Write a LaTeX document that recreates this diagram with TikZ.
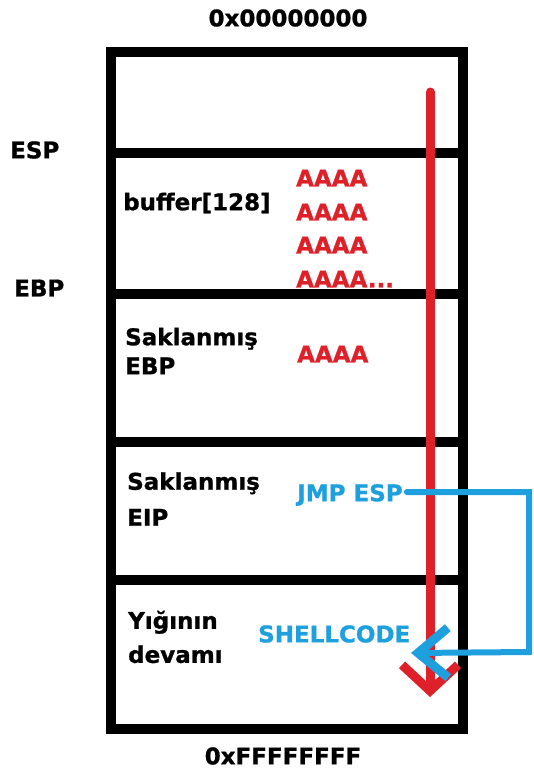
\documentclass[tikz,border=0pt]{standalone}
\usepackage{fontspec}
\setmainfont{DejaVu Sans}[BoldFeatures={FakeBold=1}]
\usetikzlibrary{arrows.meta}
\definecolor{ovred}{RGB}{222,32,40}
\definecolor{jmpblue}{RGB}{30,160,222}

\begin{document}
\begin{tikzpicture}[x=1pt, y=-1pt, every node/.style={font=\fontsize{23}{29}\selectfont\bfseries, inner sep=0pt, anchor=west}]
\useasboundingbox (0,0) rectangle (534,769);
% Stack frame
\draw[line width=10pt] (111,52) rectangle (463,729);
\foreach \y in {153,294,442,580} \draw[line width=10pt] (111,\y) -- (463,\y);
% Addresses and registers
\node[anchor=center] (lowaddr) at (288,18) {0x00000000};
\node[anchor=center] (highaddr) at (283,756) {0xFFFFFFFF};
\node (esp) at (10,150) {ESP};
\node (ebp) at (14,288) {EBP};
% Cell labels
\node (buf) at (123,203) {buffer[128]};
\node[align=left, font=\fontsize{23}{29}\selectfont\bfseries] (sebp) at (125,351) {Saklanmış\\EBP};
\node[align=left, font=\fontsize{23}{36}\selectfont\bfseries] (seip) at (127,499) {Saklanmış\\EIP};
\node[align=left, font=\fontsize{23}{34}\selectfont\bfseries] (rest) at (128,637) {Yığının\\devamı};
% Payload
\node[text=ovred] (a1) at (296,178) {AAAA};
\node[text=ovred] (a2) at (296,212) {AAAA};
\node[text=ovred] (a3) at (296,245) {AAAA};
\node[text=ovred] (a4) at (296,279) {AAAA...};
\node[text=ovred] (a5) at (297,354) {AAAA};
\node[text=jmpblue] (jmp) at (297,495) {JMP ESP};
\node[text=jmpblue] (shell) at (258,634) {SHELLCODE};
% Overflow direction
\coordinate (ovtop) at (430,92);
\coordinate (ovend) at (430,697);
\draw[ovred, line width=9pt, line cap=round, -{Straight Barb[length=26pt, width=56pt]}] (ovtop) -- (ovend);
% Jump to shellcode
\coordinate (jr) at (529,492);
\coordinate (jb) at (529,652);
\coordinate (jend) at (411,653);
\draw[jmpblue, line width=6pt, line cap=round, line join=miter, -{Straight Barb[length=30pt, width=50pt, line width=9pt]}] (jmp.east) ++(4,-3) -- (jr) -- (jb) -- (jend);
\end{tikzpicture}
\end{document}
